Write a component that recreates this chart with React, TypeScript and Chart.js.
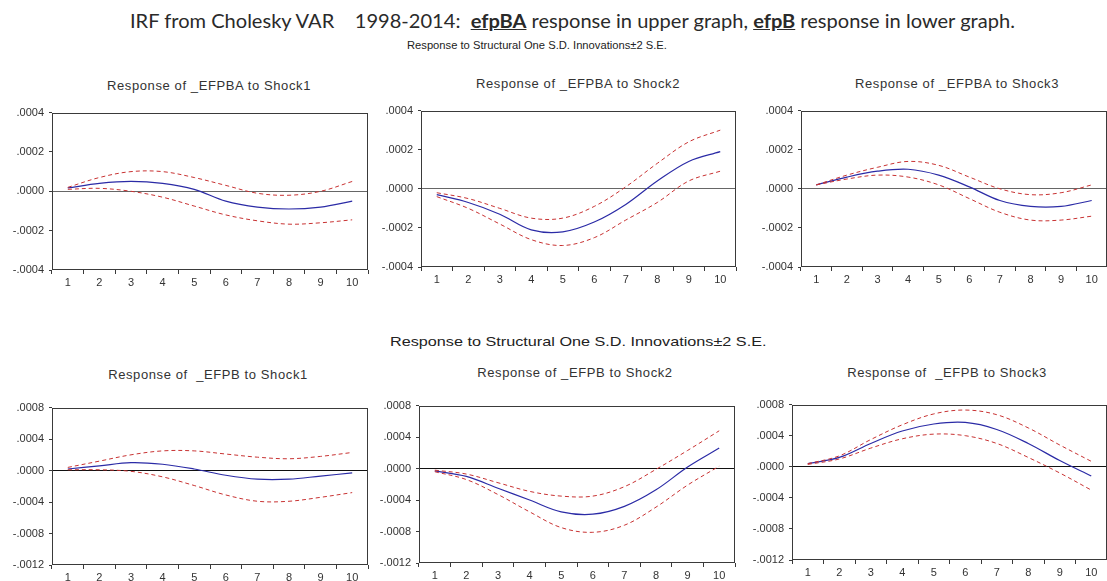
import React, { useEffect, useLayoutEffect, useRef } from 'react';
import { Chart, registerables } from 'chart.js';

Chart.register(...registerables);

// ---------- data ----------
const periods = ['1', '2', '3', '4', '5', '6', '7', '8', '9', '10'];

// Response of _EFPBA
const efpbaShock1 = [0.000017, 0.00004, 0.00005, 0.00004, 0.00001, -0.00005, -0.00008, -0.00009, -0.00008, -0.00005];
const efpbaShock1Upper = [0.00002, 0.00007, 0.0001, 0.0001, 0.00007, 0.00003, -0.00001, -0.00002, 0.0, 0.00005];
const efpbaShock1Lower = [0.00001, 0.000015, 0.0, -0.00003, -0.000075, -0.00012, -0.00015, -0.000167, -0.00016, -0.000145];

const efpbaShock2 = [-0.00003, -0.00007, -0.00013, -0.00021, -0.00022, -0.00017, -0.00008, 0.00004, 0.00014, 0.00019];
const efpbaShock2Upper = [-0.00002, -0.00005, -0.0001, -0.00015, -0.00015, -0.00009, 0.00001, 0.00013, 0.00024, 0.0003];
const efpbaShock2Lower = [-0.00004, -0.0001, -0.00018, -0.00026, -0.00029, -0.00025, -0.00016, -0.00007, 0.00004, 0.00009];

const efpbaShock3 = [0.00002, 0.00006, 0.00009, 0.0001, 0.00007, 0.00001, -0.00006, -0.00009, -0.00009, -0.00006];
const efpbaShock3Upper = [0.00002, 0.00007, 0.00011, 0.00014, 0.00012, 0.00006, 0.0, -0.00003, -0.00002, 0.00002];
const efpbaShock3Lower = [0.00002, 0.00005, 0.00007, 0.00006, 0.00002, -0.00005, -0.00012, -0.00016, -0.00016, -0.00014];

// Response of _EFPB
const efpbShock1 = [0.00002, 0.00006, 0.0001, 0.00008, 0.00002, -0.00006, -0.00011, -0.00011, -0.00007, -0.00003];
const efpbShock1Upper = [0.00004, 0.00012, 0.0002, 0.00025, 0.00025, 0.00021, 0.00017, 0.00015, 0.00018, 0.00023];
const efpbShock1Lower = [0.00001, 0.00001, -0.00001, -0.00008, -0.00019, -0.00031, -0.00039, -0.00039, -0.00034, -0.00028];

const efpbShock2 = [-0.00003, -0.0001, -0.00025, -0.0004, -0.00055, -0.00058, -0.00048, -0.00027, 0.00002, 0.00026];
const efpbShock2Upper = [-0.00002, -0.00007, -0.00018, -0.00029, -0.00035, -0.00035, -0.00023, -0.00001, 0.00023, 0.00048];
const efpbShock2Lower = [-0.00004, -0.00014, -0.00033, -0.00055, -0.00075, -0.00081, -0.00072, -0.00049, -0.00021, 0.00003];

const efpbShock3 = [0.00004, 0.00012, 0.0003, 0.00046, 0.00055, 0.00057, 0.00048, 0.0003, 0.00008, -0.00012];
const efpbShock3Upper = [0.00004, 0.00014, 0.00035, 0.00054, 0.00068, 0.00073, 0.00067, 0.0005, 0.00028, 0.00007];
const efpbShock3Lower = [0.00003, 0.0001, 0.00024, 0.00036, 0.00042, 0.0004, 0.0003, 0.00012, -0.00008, -0.0003];

// axis ranges
const upperAxis = { min: -0.0004, max: 0.0004, step: 0.0002 };
const lowerAxis = { min: -0.0012, max: 0.0008, step: 0.0004 };

// ---------- layout ----------
type Box = { l: number; t: number; r: number; b: number };
const PAGE_W = 1107;
const Y_W = 52;
const PAD_T = 8;
const X_H = 24;
const PAD_R = 3;

const BLUE = '#2b2ba6';
const RED = '#c83232';
const FONT = '"Liberation Sans", Arial, sans-serif';

const framePlugin = {
  id: 'frame',
  afterDraw(chart: any) {
    const { ctx, chartArea } = chart;
    const { left, top, right, bottom } = chartArea;
    ctx.save();
    ctx.strokeStyle = '#3a3a3a';
    ctx.lineWidth = 1;
    ctx.strokeRect(Math.round(left) + 0.5, Math.round(top) + 0.5, Math.round(right - left) - 1, Math.round(bottom - top) - 1);
    ctx.restore();
  },
};

function fmt(v: number) {
  if (Math.abs(v) < 1e-12) return '.0000';
  return v.toFixed(4).replace('0.', '.');
}

function Panel(props: {
  box: Box;
  mid: number[];
  up: number[];
  lo: number[];
  axis: { min: number; max: number; step: number };
  zeroColor: string;
}) {
  const ref = useRef<HTMLCanvasElement | null>(null);
  const { box, mid, up, lo, axis, zeroColor } = props;
  const canvasLeft = box.l - Y_W;
  const canvasRight = Math.min(box.r + PAD_R, PAGE_W);
  const padRight = canvasRight - box.r; // may be negative: plot runs past the page edge
  const w = canvasRight - canvasLeft;
  const h = box.b - box.t + PAD_T + X_H;

  useEffect(() => {
    if (!ref.current) return;
    const dashed = (data: number[]) => ({
      data,
      borderColor: RED,
      borderWidth: 1,
      borderDash: [4, 3],
      pointRadius: 0,
      tension: 0.35,
      fill: false,
    });
    const chart = new Chart(ref.current, {
      type: 'line',
      data: {
        labels: periods,
        datasets: [
          dashed(up),
          dashed(lo),
          {
            data: mid,
            borderColor: BLUE,
            borderWidth: 1.2,
            pointRadius: 0,
            tension: 0.35,
            fill: false,
          },
        ],
      },
      options: {
        animation: false,
        responsive: false,
        devicePixelRatio: 1,
        layout: { padding: { top: PAD_T, right: padRight, left: 0, bottom: 0 } },
        plugins: { legend: { display: false }, tooltip: { enabled: false }, title: { display: false } },
        scales: {
          x: {
            type: 'category',
            offset: true,
            afterFit(scale: any) {
              scale.height = X_H;
            },
            grid: { drawOnChartArea: false, offset: true, tickColor: '#3a3a3a', tickLength: 4 },
            border: { display: false },
            ticks: { color: '#333', font: { family: FONT, size: 11 }, padding: 2, maxRotation: 0, autoSkip: false },
          },
          y: {
            min: axis.min,
            max: axis.max,
            afterFit(scale: any) {
              scale.width = Y_W;
            },
            grid: {
              drawOnChartArea: true,
              color: (c: any) => (c.tick && Math.abs(c.tick.value) < 1e-12 ? zeroColor : 'rgba(0,0,0,0)'),
              lineWidth: 1,
              tickColor: '#3a3a3a',
              tickLength: 3,
            },
            border: { display: false },
            ticks: {
              stepSize: axis.step,
              color: '#333',
              font: { family: FONT, size: 11 },
              padding: 5,
              callback: (v: any) => fmt(Number(v)),
            },
          },
        },
      },
      plugins: [framePlugin],
    } as any);
    return () => chart.destroy();
  }, []);

  return (
    <canvas
      ref={ref}
      width={w}
      height={h}
      style={{ position: 'absolute', left: canvasLeft, top: box.t - PAD_T, width: w, height: h }}
    />
  );
}

// text stretched horizontally to span a given width
function FitText(props: { left: number; centerY: number; width: number; font: string; color: string; children: any }) {
  const ref = useRef<HTMLSpanElement | null>(null);
  useLayoutEffect(() => {
    const el = ref.current;
    if (!el) return;
    const natural = el.offsetWidth;
    const hgt = el.offsetHeight;
    el.style.top = `${props.centerY - hgt / 2}px`;
    if (natural > 0) el.style.transform = `scaleX(${props.width / natural})`;
  }, []);
  return (
    <span
      ref={ref}
      style={{
        position: 'absolute',
        left: props.left,
        top: props.centerY - 10,
        display: 'inline-block',
        whiteSpace: 'pre',
        transformOrigin: '0 0',
        font: props.font,
        color: props.color,
        lineHeight: 1.2,
      }}
    >
      {props.children}
    </span>
  );
}

const panelTitle = (text: string, cx: number, cy: number) => (
  <div
    style={{
      position: 'absolute',
      left: cx - 150,
      width: 300,
      top: cy - 8,
      textAlign: 'center',
      font: `13px ${FONT}`,
      letterSpacing: '0.6px',
      color: '#333',
      whiteSpace: 'pre',
    }}
  >
    {text}
  </div>
);

export default function App() {
  return (
    <div
      style={{
        position: 'fixed',
        left: 0,
        top: 0,
        width: PAGE_W,
        height: 581,
        overflow: 'hidden',
        background: '#fff',
      }}
    >
      <FitText left={130} centerY={21} width={885} font='19px Lato, "Open Sans", sans-serif' color="#2a2a2a">
        {'IRF from Cholesky VAR    1998-2014:  '}
        <b>
          <u>efpBA</u>
        </b>
        {' response in upper graph, '}
        <b>
          <u>efpB</u>
        </b>
        {' response in lower graph.'}
      </FitText>
      <FitText left={407} centerY={45} width={260} font={`10.5px ${FONT}`} color="#222">
        Response to Structural One S.D. Innovations±2 S.E.
      </FitText>
      <FitText left={390} centerY={342} width={377} font={`13.5px ${FONT}`} color="#222">
        Response to Structural One S.D. Innovations±2 S.E.
      </FitText>

      {panelTitle('Response of _EFPBA to Shock1', 209, 86)}
      {panelTitle('Response of _EFPBA to Shock2', 578, 84)}
      {panelTitle('Response of _EFPBA to Shock3', 957, 84)}
      {panelTitle('Response of  _EFPB to Shock1', 208, 375)}
      {panelTitle('Response of _EFPB to Shock2', 575, 373)}
      {panelTitle('Response of  _EFPB to Shock3', 947, 373)}

      <Panel box={{ l: 52, t: 109, r: 368, b: 270 }} mid={efpbaShock1} up={efpbaShock1Upper} lo={efpbaShock1Lower} axis={upperAxis} zeroColor="#666" />
      <Panel box={{ l: 421, t: 107, r: 736, b: 267 }} mid={efpbaShock2} up={efpbaShock2Upper} lo={efpbaShock2Lower} axis={upperAxis} zeroColor="#666" />
      <Panel box={{ l: 801, t: 107, r: 1115, b: 267 }} mid={efpbaShock3} up={efpbaShock3Upper} lo={efpbaShock3Lower} axis={upperAxis} zeroColor="#666" />
      <Panel box={{ l: 52, t: 404, r: 368, b: 565 }} mid={efpbShock1} up={efpbShock1Upper} lo={efpbShock1Lower} axis={lowerAxis} zeroColor="#111" />
      <Panel box={{ l: 419, t: 402, r: 735, b: 563 }} mid={efpbShock2} up={efpbShock2Upper} lo={efpbShock2Lower} axis={lowerAxis} zeroColor="#111" />
      <Panel box={{ l: 792, t: 401, r: 1108, b: 560 }} mid={efpbShock3} up={efpbShock3Upper} lo={efpbShock3Lower} axis={lowerAxis} zeroColor="#111" />
    </div>
  );
}
